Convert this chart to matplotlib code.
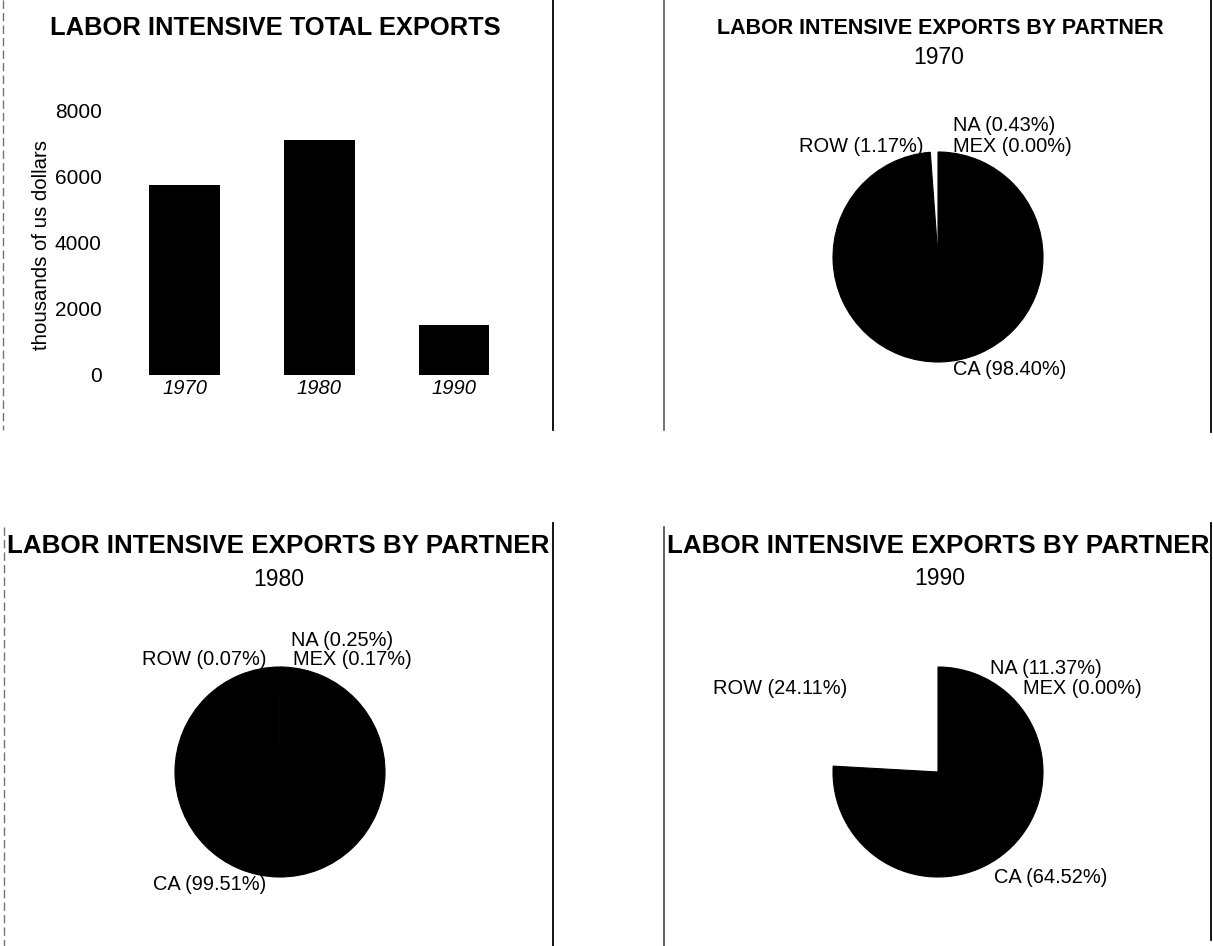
import matplotlib
matplotlib.use("Agg")
import matplotlib.pyplot as plt
from matplotlib.lines import Line2D

plt.rcParams['font.family'] = ['Liberation Sans', 'DejaVu Sans']

# total labor intensive exports, thousands of US dollars
years = ['1970', '1980', '1990']
exports = [5750, 7100, 1500]

# share of exports by partner (percent), drawn counterclockwise from 12 o'clock
partners = ['ROW', 'CA', 'MEX', 'NA']
shares_1970 = [1.17, 98.40, 0.00, 0.43]
shares_1980 = [0.07, 99.51, 0.17, 0.25]
shares_1990 = [24.11, 64.52, 0.00, 11.37]
partner_colors = ['white', 'black', 'black', 'black']

W, H = 1213, 946
fig = plt.figure(figsize=(W / 100, H / 100), dpi=100)


def px_axes(left, top, width, height):
    # axes placed in pixel units, measured from the top-left corner
    return fig.add_axes([left / W, 1 - (top + height) / H, width / W, height / H])


def px_text(x, y, s, **kw):
    fig.text(x / W, 1 - y / H, s, ha='center', va='center', **kw)


def px_vline(x, y0, y1, **kw):
    fig.add_artist(Line2D([x / W, x / W], [1 - y0 / H, 1 - y1 / H],
                          transform=fig.transFigure, **kw))


# ---- bar chart: total exports ----
ax = px_axes(110, 110, 418, 265)
ax.bar(range(len(years)), exports, width=0.525, color='black')
ax.set_xlim(-0.555, 2.55)
ax.set_ylim(0, 8000)
ax.set_yticks([0, 2000, 4000, 6000, 8000])
ax.set_xticks(range(len(years)))
ax.set_xticklabels(years, fontstyle='italic', fontsize=14.5)
ax.tick_params(axis='y', length=0, pad=6, labelsize=15)
ax.tick_params(axis='x', length=0, pad=3)
for sp in ax.spines.values():
    sp.set_visible(False)
ax.set_ylabel('thousands of us dollars', fontsize=14.7)
ax.yaxis.set_label_coords(-0.14, 0.49)
px_text(275, 28, 'LABOR INTENSIVE TOTAL EXPORTS', fontsize=18.4, fontweight='bold')


# ---- pies: exports by partner ----
R = 105  # pie radius in pixels


def partner_pie(cx, cy, shares, label_pos):
    pax = px_axes(cx - 2 * R, cy - 2 * R, 4 * R, 4 * R)
    wedges, _ = pax.pie(shares, colors=partner_colors, startangle=90, radius=1)
    # outline the dark wedges in their own colour so no seams show between them
    for w, c in zip(wedges, partner_colors):
        if c == 'white':
            w.set_linewidth(0)
        else:
            w.set_edgecolor(c)
            w.set_linewidth(0.8)
    pax.set_xlim(-2, 2)
    pax.set_ylim(-2, 2)
    pax.axis('off')
    for name, share in zip(partners, shares):
        x, y, ha = label_pos[name]
        pax.text(x, y, f'{name} ({share:.2f}%)', ha=ha, va='center',
                 fontsize=14.4, clip_on=False)
    return pax


partner_pie(938, 257, shares_1970,
            {'NA': (0.14, 1.257, 'left'), 'MEX': (0.14, 1.048, 'left'),
             'ROW': (-0.14, 1.048, 'right'), 'CA': (0.14, -1.076, 'left')})
px_text(940, 29, 'LABOR INTENSIVE EXPORTS BY PARTNER', fontsize=15.5, fontweight='bold')
px_text(939, 58, '1970', fontsize=16.5)

partner_pie(280, 772, shares_1980,
            {'NA': (0.105, 1.257, 'left'), 'MEX': (0.124, 1.067, 'left'),
             'ROW': (-0.133, 1.067, 'right'), 'CA': (-0.133, -1.076, 'right')})
px_text(278, 546, 'LABOR INTENSIVE EXPORTS BY PARTNER', fontsize=18.7, fontweight='bold')
px_text(279, 579, '1980', fontsize=16.5)

partner_pie(938, 772, shares_1990,
            {'NA': (0.495, 0.99, 'left'), 'MEX': (0.81, 0.80, 'left'),
             'ROW': (-0.867, 0.80, 'right'), 'CA': (0.533, -1.0, 'left')})
px_text(938, 546, 'LABOR INTENSIVE EXPORTS BY PARTNER', fontsize=18.7, fontweight='bold')
px_text(940, 578, '1990', fontsize=16.5)

# panel frame edges
px_vline(3, 0, 430, color='0.45', lw=1, ls=(0, (6, 3)))
px_vline(4, 527, 946, color='0.45', lw=1, ls=(0, (6, 3)))
px_vline(553, 0, 430, color='black', lw=1.3)
px_vline(553, 523, 946, color='black', lw=1.3)
px_vline(664, 0, 430, color='0.3', lw=1.1)
px_vline(664, 527, 946, color='0.2', lw=1.1)
px_vline(1211, 0, 432, color='black', lw=1.3)
px_vline(1211, 523, 940, color='black', lw=1.3)

fig.savefig('out.png', dpi=100, facecolor='white')
